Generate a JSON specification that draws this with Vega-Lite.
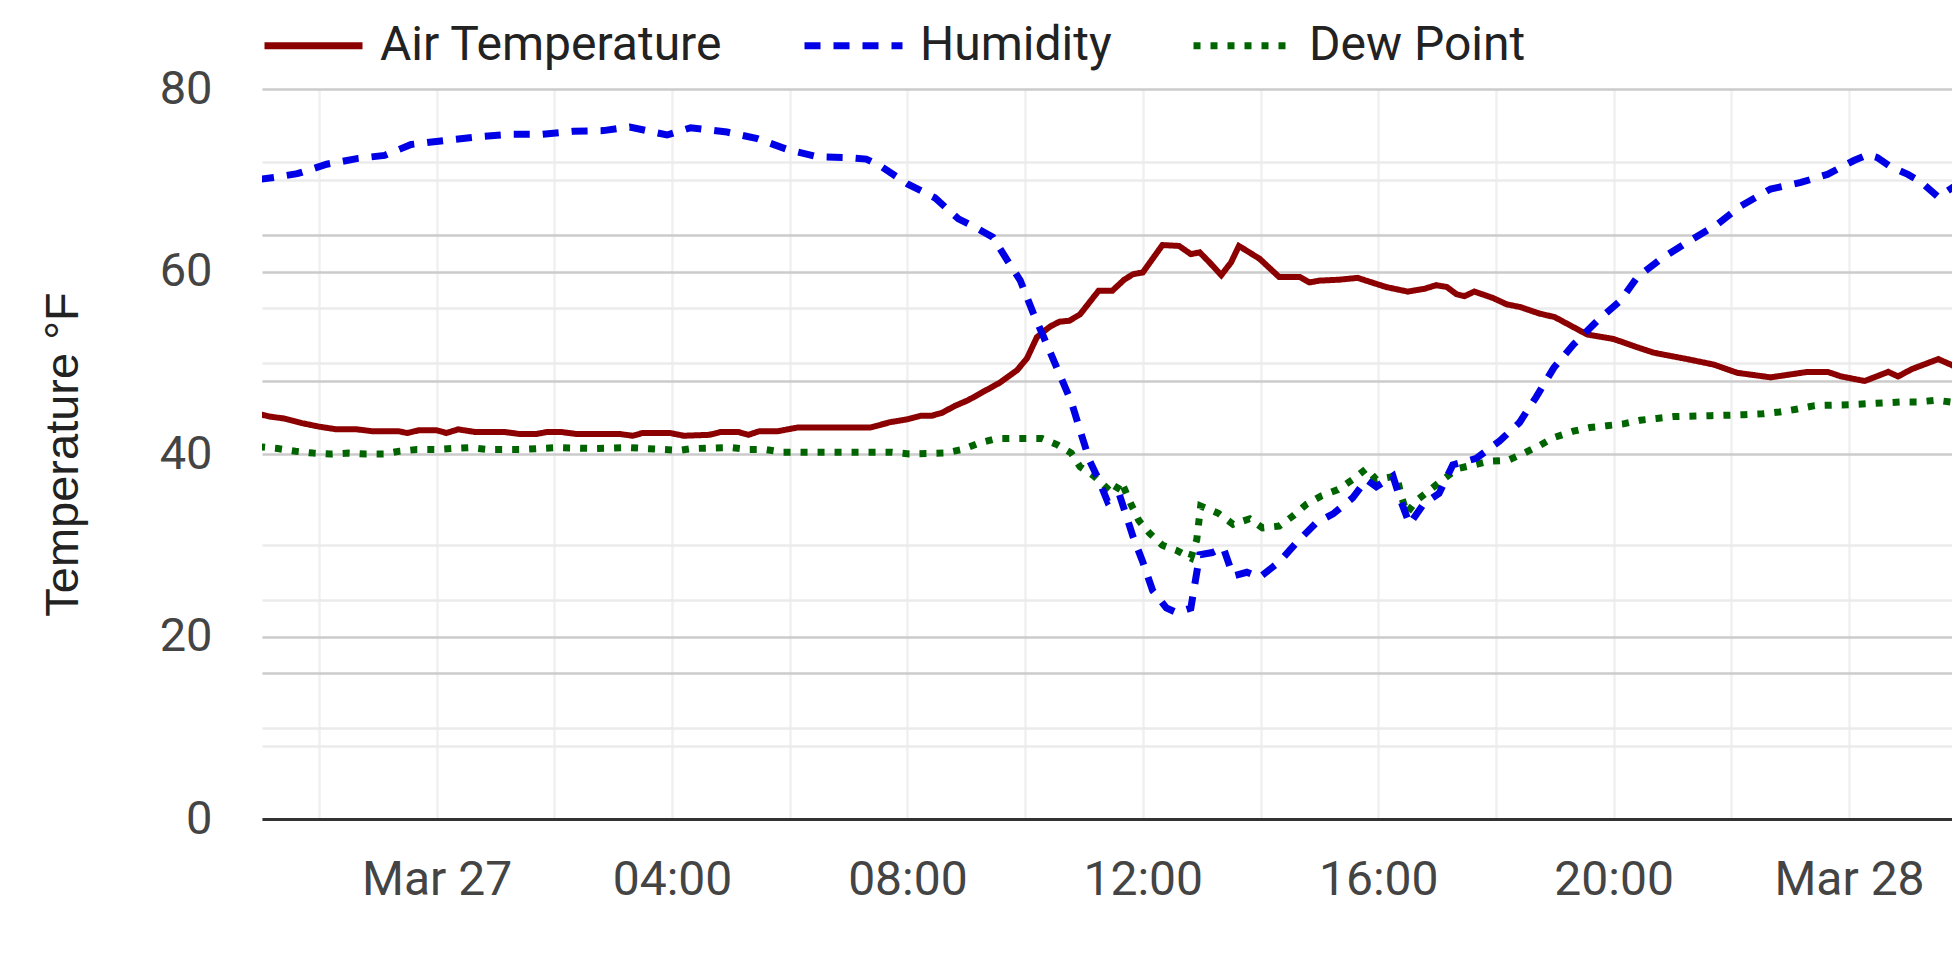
{
  "$schema": "https://vega.github.io/schema/vega-lite/v6.json",
  "width": 1690,
  "height": 730,
  "autosize": "none",
  "padding": {"left": 262, "top": 89, "right": 0, "bottom": 140},
  "background": "white",
  "data": {
    "values": [
      {"time": "2024-03-26T20:58", "series": "Air Temperature", "value": 44.4},
      {"time": "2024-03-26T21:10", "series": "Air Temperature", "value": 44.1},
      {"time": "2024-03-26T21:24", "series": "Air Temperature", "value": 43.9},
      {"time": "2024-03-26T21:42", "series": "Air Temperature", "value": 43.4},
      {"time": "2024-03-26T22:00", "series": "Air Temperature", "value": 43.0},
      {"time": "2024-03-26T22:18", "series": "Air Temperature", "value": 42.7},
      {"time": "2024-03-26T22:39", "series": "Air Temperature", "value": 42.7},
      {"time": "2024-03-26T22:54", "series": "Air Temperature", "value": 42.5},
      {"time": "2024-03-26T23:21", "series": "Air Temperature", "value": 42.5},
      {"time": "2024-03-26T23:30", "series": "Air Temperature", "value": 42.3},
      {"time": "2024-03-26T23:42", "series": "Air Temperature", "value": 42.6},
      {"time": "2024-03-27T00:00", "series": "Air Temperature", "value": 42.6},
      {"time": "2024-03-27T00:10", "series": "Air Temperature", "value": 42.3},
      {"time": "2024-03-27T00:22", "series": "Air Temperature", "value": 42.7},
      {"time": "2024-03-27T00:40", "series": "Air Temperature", "value": 42.4},
      {"time": "2024-03-27T01:10", "series": "Air Temperature", "value": 42.4},
      {"time": "2024-03-27T01:24", "series": "Air Temperature", "value": 42.2},
      {"time": "2024-03-27T01:42", "series": "Air Temperature", "value": 42.2},
      {"time": "2024-03-27T01:52", "series": "Air Temperature", "value": 42.4},
      {"time": "2024-03-27T02:08", "series": "Air Temperature", "value": 42.4},
      {"time": "2024-03-27T02:22", "series": "Air Temperature", "value": 42.2},
      {"time": "2024-03-27T03:06", "series": "Air Temperature", "value": 42.2},
      {"time": "2024-03-27T03:20", "series": "Air Temperature", "value": 42.0},
      {"time": "2024-03-27T03:30", "series": "Air Temperature", "value": 42.3},
      {"time": "2024-03-27T03:58", "series": "Air Temperature", "value": 42.3},
      {"time": "2024-03-27T04:12", "series": "Air Temperature", "value": 42.0},
      {"time": "2024-03-27T04:38", "series": "Air Temperature", "value": 42.1},
      {"time": "2024-03-27T04:49", "series": "Air Temperature", "value": 42.4},
      {"time": "2024-03-27T05:08", "series": "Air Temperature", "value": 42.4},
      {"time": "2024-03-27T05:18", "series": "Air Temperature", "value": 42.1},
      {"time": "2024-03-27T05:29", "series": "Air Temperature", "value": 42.5},
      {"time": "2024-03-27T05:48", "series": "Air Temperature", "value": 42.5},
      {"time": "2024-03-27T06:08", "series": "Air Temperature", "value": 42.9},
      {"time": "2024-03-27T07:22", "series": "Air Temperature", "value": 42.9},
      {"time": "2024-03-27T07:43", "series": "Air Temperature", "value": 43.5},
      {"time": "2024-03-27T08:00", "series": "Air Temperature", "value": 43.8},
      {"time": "2024-03-27T08:14", "series": "Air Temperature", "value": 44.2},
      {"time": "2024-03-27T08:25", "series": "Air Temperature", "value": 44.2},
      {"time": "2024-03-27T08:35", "series": "Air Temperature", "value": 44.5},
      {"time": "2024-03-27T08:49", "series": "Air Temperature", "value": 45.3},
      {"time": "2024-03-27T09:02", "series": "Air Temperature", "value": 45.9},
      {"time": "2024-03-27T09:17", "series": "Air Temperature", "value": 46.8},
      {"time": "2024-03-27T09:34", "series": "Air Temperature", "value": 47.8},
      {"time": "2024-03-27T09:52", "series": "Air Temperature", "value": 49.2},
      {"time": "2024-03-27T10:02", "series": "Air Temperature", "value": 50.5},
      {"time": "2024-03-27T10:12", "series": "Air Temperature", "value": 52.8},
      {"time": "2024-03-27T10:21", "series": "Air Temperature", "value": 53.6},
      {"time": "2024-03-27T10:26", "series": "Air Temperature", "value": 54.0},
      {"time": "2024-03-27T10:35", "series": "Air Temperature", "value": 54.5},
      {"time": "2024-03-27T10:45", "series": "Air Temperature", "value": 54.6},
      {"time": "2024-03-27T10:56", "series": "Air Temperature", "value": 55.3},
      {"time": "2024-03-27T11:15", "series": "Air Temperature", "value": 57.9},
      {"time": "2024-03-27T11:29", "series": "Air Temperature", "value": 57.9},
      {"time": "2024-03-27T11:41", "series": "Air Temperature", "value": 59.1},
      {"time": "2024-03-27T11:50", "series": "Air Temperature", "value": 59.7},
      {"time": "2024-03-27T12:00", "series": "Air Temperature", "value": 59.9},
      {"time": "2024-03-27T12:10", "series": "Air Temperature", "value": 61.4},
      {"time": "2024-03-27T12:20", "series": "Air Temperature", "value": 62.9},
      {"time": "2024-03-27T12:37", "series": "Air Temperature", "value": 62.8},
      {"time": "2024-03-27T12:49", "series": "Air Temperature", "value": 61.9},
      {"time": "2024-03-27T12:58", "series": "Air Temperature", "value": 62.1},
      {"time": "2024-03-27T13:08", "series": "Air Temperature", "value": 61.0},
      {"time": "2024-03-27T13:20", "series": "Air Temperature", "value": 59.6},
      {"time": "2024-03-27T13:30", "series": "Air Temperature", "value": 61.0},
      {"time": "2024-03-27T13:38", "series": "Air Temperature", "value": 62.8},
      {"time": "2024-03-27T13:59", "series": "Air Temperature", "value": 61.4},
      {"time": "2024-03-27T14:19", "series": "Air Temperature", "value": 59.4},
      {"time": "2024-03-27T14:40", "series": "Air Temperature", "value": 59.4},
      {"time": "2024-03-27T14:50", "series": "Air Temperature", "value": 58.8},
      {"time": "2024-03-27T15:00", "series": "Air Temperature", "value": 59.0},
      {"time": "2024-03-27T15:20", "series": "Air Temperature", "value": 59.1},
      {"time": "2024-03-27T15:39", "series": "Air Temperature", "value": 59.3},
      {"time": "2024-03-27T16:08", "series": "Air Temperature", "value": 58.3},
      {"time": "2024-03-27T16:30", "series": "Air Temperature", "value": 57.8},
      {"time": "2024-03-27T16:47", "series": "Air Temperature", "value": 58.1},
      {"time": "2024-03-27T16:59", "series": "Air Temperature", "value": 58.5},
      {"time": "2024-03-27T17:10", "series": "Air Temperature", "value": 58.3},
      {"time": "2024-03-27T17:20", "series": "Air Temperature", "value": 57.5},
      {"time": "2024-03-27T17:28", "series": "Air Temperature", "value": 57.3},
      {"time": "2024-03-27T17:38", "series": "Air Temperature", "value": 57.8},
      {"time": "2024-03-27T17:57", "series": "Air Temperature", "value": 57.1},
      {"time": "2024-03-27T18:11", "series": "Air Temperature", "value": 56.4},
      {"time": "2024-03-27T18:25", "series": "Air Temperature", "value": 56.1},
      {"time": "2024-03-27T18:44", "series": "Air Temperature", "value": 55.4},
      {"time": "2024-03-27T19:00", "series": "Air Temperature", "value": 55.0},
      {"time": "2024-03-27T19:33", "series": "Air Temperature", "value": 53.1},
      {"time": "2024-03-27T20:00", "series": "Air Temperature", "value": 52.6},
      {"time": "2024-03-27T20:24", "series": "Air Temperature", "value": 51.7},
      {"time": "2024-03-27T20:41", "series": "Air Temperature", "value": 51.1},
      {"time": "2024-03-27T21:15", "series": "Air Temperature", "value": 50.4},
      {"time": "2024-03-27T21:42", "series": "Air Temperature", "value": 49.8},
      {"time": "2024-03-27T22:06", "series": "Air Temperature", "value": 48.9},
      {"time": "2024-03-27T22:40", "series": "Air Temperature", "value": 48.4},
      {"time": "2024-03-27T23:18", "series": "Air Temperature", "value": 49.0},
      {"time": "2024-03-27T23:38", "series": "Air Temperature", "value": 49.0},
      {"time": "2024-03-27T23:52", "series": "Air Temperature", "value": 48.5},
      {"time": "2024-03-28T00:16", "series": "Air Temperature", "value": 48.0},
      {"time": "2024-03-28T00:40", "series": "Air Temperature", "value": 49.0},
      {"time": "2024-03-28T00:50", "series": "Air Temperature", "value": 48.5},
      {"time": "2024-03-28T01:04", "series": "Air Temperature", "value": 49.3},
      {"time": "2024-03-28T01:31", "series": "Air Temperature", "value": 50.4},
      {"time": "2024-03-28T01:50", "series": "Air Temperature", "value": 49.5},
      {"time": "2024-03-26T20:58", "series": "Dew Point", "value": 40.8},
      {"time": "2024-03-26T21:18", "series": "Dew Point", "value": 40.6},
      {"time": "2024-03-26T21:36", "series": "Dew Point", "value": 40.3},
      {"time": "2024-03-26T21:54", "series": "Dew Point", "value": 40.1},
      {"time": "2024-03-26T22:12", "series": "Dew Point", "value": 40.0},
      {"time": "2024-03-26T22:30", "series": "Dew Point", "value": 40.1},
      {"time": "2024-03-26T22:48", "series": "Dew Point", "value": 40.0},
      {"time": "2024-03-26T23:06", "series": "Dew Point", "value": 40.0},
      {"time": "2024-03-26T23:22", "series": "Dew Point", "value": 40.3},
      {"time": "2024-03-26T23:40", "series": "Dew Point", "value": 40.5},
      {"time": "2024-03-27T00:00", "series": "Dew Point", "value": 40.5},
      {"time": "2024-03-27T00:16", "series": "Dew Point", "value": 40.6},
      {"time": "2024-03-27T00:34", "series": "Dew Point", "value": 40.7},
      {"time": "2024-03-27T00:52", "series": "Dew Point", "value": 40.5},
      {"time": "2024-03-27T01:28", "series": "Dew Point", "value": 40.5},
      {"time": "2024-03-27T01:44", "series": "Dew Point", "value": 40.6},
      {"time": "2024-03-27T02:04", "series": "Dew Point", "value": 40.7},
      {"time": "2024-03-27T02:40", "series": "Dew Point", "value": 40.6},
      {"time": "2024-03-27T03:16", "series": "Dew Point", "value": 40.7},
      {"time": "2024-03-27T03:50", "series": "Dew Point", "value": 40.5},
      {"time": "2024-03-27T04:08", "series": "Dew Point", "value": 40.4},
      {"time": "2024-03-27T04:21", "series": "Dew Point", "value": 40.6},
      {"time": "2024-03-27T05:00", "series": "Dew Point", "value": 40.7},
      {"time": "2024-03-27T05:17", "series": "Dew Point", "value": 40.5},
      {"time": "2024-03-27T05:35", "series": "Dew Point", "value": 40.5},
      {"time": "2024-03-27T05:53", "series": "Dew Point", "value": 40.2},
      {"time": "2024-03-27T07:43", "series": "Dew Point", "value": 40.2},
      {"time": "2024-03-27T08:02", "series": "Dew Point", "value": 40.0},
      {"time": "2024-03-27T08:38", "series": "Dew Point", "value": 40.1},
      {"time": "2024-03-27T08:56", "series": "Dew Point", "value": 40.5},
      {"time": "2024-03-27T09:13", "series": "Dew Point", "value": 41.2},
      {"time": "2024-03-27T09:31", "series": "Dew Point", "value": 41.7},
      {"time": "2024-03-27T10:17", "series": "Dew Point", "value": 41.7},
      {"time": "2024-03-27T10:33", "series": "Dew Point", "value": 41.0},
      {"time": "2024-03-27T10:47", "series": "Dew Point", "value": 40.1},
      {"time": "2024-03-27T10:56", "series": "Dew Point", "value": 38.6},
      {"time": "2024-03-27T11:10", "series": "Dew Point", "value": 37.6},
      {"time": "2024-03-27T11:21", "series": "Dew Point", "value": 36.5},
      {"time": "2024-03-27T11:30", "series": "Dew Point", "value": 35.6},
      {"time": "2024-03-27T11:38", "series": "Dew Point", "value": 37.0},
      {"time": "2024-03-27T11:48", "series": "Dew Point", "value": 34.5},
      {"time": "2024-03-27T11:56", "series": "Dew Point", "value": 32.7},
      {"time": "2024-03-27T12:07", "series": "Dew Point", "value": 31.3},
      {"time": "2024-03-27T12:20", "series": "Dew Point", "value": 30.0},
      {"time": "2024-03-27T12:35", "series": "Dew Point", "value": 29.4},
      {"time": "2024-03-27T12:49", "series": "Dew Point", "value": 28.6},
      {"time": "2024-03-27T12:55", "series": "Dew Point", "value": 30.6},
      {"time": "2024-03-27T12:59", "series": "Dew Point", "value": 34.3},
      {"time": "2024-03-27T13:17", "series": "Dew Point", "value": 33.5},
      {"time": "2024-03-27T13:32", "series": "Dew Point", "value": 32.3},
      {"time": "2024-03-27T13:49", "series": "Dew Point", "value": 32.9},
      {"time": "2024-03-27T14:02", "series": "Dew Point", "value": 31.9},
      {"time": "2024-03-27T14:19", "series": "Dew Point", "value": 32.1},
      {"time": "2024-03-27T14:33", "series": "Dew Point", "value": 33.2},
      {"time": "2024-03-27T14:47", "series": "Dew Point", "value": 34.5},
      {"time": "2024-03-27T15:02", "series": "Dew Point", "value": 35.4},
      {"time": "2024-03-27T15:19", "series": "Dew Point", "value": 36.1},
      {"time": "2024-03-27T15:34", "series": "Dew Point", "value": 37.2},
      {"time": "2024-03-27T15:48", "series": "Dew Point", "value": 38.4},
      {"time": "2024-03-27T15:58", "series": "Dew Point", "value": 37.2},
      {"time": "2024-03-27T16:19", "series": "Dew Point", "value": 37.6},
      {"time": "2024-03-27T16:23", "series": "Dew Point", "value": 35.6},
      {"time": "2024-03-27T16:29", "series": "Dew Point", "value": 33.5},
      {"time": "2024-03-27T16:39", "series": "Dew Point", "value": 34.9},
      {"time": "2024-03-27T16:52", "series": "Dew Point", "value": 36.0},
      {"time": "2024-03-27T17:06", "series": "Dew Point", "value": 37.2},
      {"time": "2024-03-27T17:21", "series": "Dew Point", "value": 38.4},
      {"time": "2024-03-27T17:37", "series": "Dew Point", "value": 38.8},
      {"time": "2024-03-27T17:53", "series": "Dew Point", "value": 39.2},
      {"time": "2024-03-27T18:12", "series": "Dew Point", "value": 39.3},
      {"time": "2024-03-27T18:29", "series": "Dew Point", "value": 40.1},
      {"time": "2024-03-27T18:44", "series": "Dew Point", "value": 40.9},
      {"time": "2024-03-27T18:59", "series": "Dew Point", "value": 41.8},
      {"time": "2024-03-27T19:19", "series": "Dew Point", "value": 42.5},
      {"time": "2024-03-27T19:36", "series": "Dew Point", "value": 42.9},
      {"time": "2024-03-27T19:53", "series": "Dew Point", "value": 43.1},
      {"time": "2024-03-27T20:10", "series": "Dew Point", "value": 43.3},
      {"time": "2024-03-27T20:27", "series": "Dew Point", "value": 43.7},
      {"time": "2024-03-27T20:44", "series": "Dew Point", "value": 43.9},
      {"time": "2024-03-27T21:01", "series": "Dew Point", "value": 44.1},
      {"time": "2024-03-27T21:39", "series": "Dew Point", "value": 44.2},
      {"time": "2024-03-27T22:13", "series": "Dew Point", "value": 44.3},
      {"time": "2024-03-27T22:32", "series": "Dew Point", "value": 44.4},
      {"time": "2024-03-27T22:49", "series": "Dew Point", "value": 44.6},
      {"time": "2024-03-27T23:06", "series": "Dew Point", "value": 44.9},
      {"time": "2024-03-27T23:25", "series": "Dew Point", "value": 45.3},
      {"time": "2024-03-28T00:00", "series": "Dew Point", "value": 45.4},
      {"time": "2024-03-28T00:17", "series": "Dew Point", "value": 45.5},
      {"time": "2024-03-28T00:34", "series": "Dew Point", "value": 45.6},
      {"time": "2024-03-28T00:53", "series": "Dew Point", "value": 45.7},
      {"time": "2024-03-28T01:10", "series": "Dew Point", "value": 45.7},
      {"time": "2024-03-28T01:29", "series": "Dew Point", "value": 45.9},
      {"time": "2024-03-28T01:50", "series": "Dew Point", "value": 45.6},
      {"time": "2024-03-26T20:58", "series": "Humidity", "value": 87.6},
      {"time": "2024-03-26T21:15", "series": "Humidity", "value": 87.9},
      {"time": "2024-03-26T21:38", "series": "Humidity", "value": 88.4},
      {"time": "2024-03-26T22:08", "series": "Humidity", "value": 89.7},
      {"time": "2024-03-26T22:40", "series": "Humidity", "value": 90.5},
      {"time": "2024-03-26T23:07", "series": "Humidity", "value": 90.9},
      {"time": "2024-03-26T23:34", "series": "Humidity", "value": 92.4},
      {"time": "2024-03-27T00:12", "series": "Humidity", "value": 93.0},
      {"time": "2024-03-27T00:46", "series": "Humidity", "value": 93.5},
      {"time": "2024-03-27T01:17", "series": "Humidity", "value": 93.8},
      {"time": "2024-03-27T01:48", "series": "Humidity", "value": 93.8},
      {"time": "2024-03-27T02:19", "series": "Humidity", "value": 94.2},
      {"time": "2024-03-27T02:50", "series": "Humidity", "value": 94.3},
      {"time": "2024-03-27T03:17", "series": "Humidity", "value": 94.8},
      {"time": "2024-03-27T03:34", "series": "Humidity", "value": 94.3},
      {"time": "2024-03-27T03:55", "series": "Humidity", "value": 93.7},
      {"time": "2024-03-27T04:19", "series": "Humidity", "value": 94.7},
      {"time": "2024-03-27T04:56", "series": "Humidity", "value": 94.1},
      {"time": "2024-03-27T05:27", "series": "Humidity", "value": 93.2},
      {"time": "2024-03-27T05:58", "series": "Humidity", "value": 91.7},
      {"time": "2024-03-27T06:29", "series": "Humidity", "value": 90.7},
      {"time": "2024-03-27T07:01", "series": "Humidity", "value": 90.6},
      {"time": "2024-03-27T07:18", "series": "Humidity", "value": 90.4},
      {"time": "2024-03-27T07:32", "series": "Humidity", "value": 89.5},
      {"time": "2024-03-27T08:00", "series": "Humidity", "value": 87.0},
      {"time": "2024-03-27T08:28", "series": "Humidity", "value": 85.1},
      {"time": "2024-03-27T08:52", "series": "Humidity", "value": 82.2},
      {"time": "2024-03-27T09:10", "series": "Humidity", "value": 81.0},
      {"time": "2024-03-27T09:27", "series": "Humidity", "value": 79.7},
      {"time": "2024-03-27T09:43", "series": "Humidity", "value": 76.3},
      {"time": "2024-03-27T09:55", "series": "Humidity", "value": 73.8},
      {"time": "2024-03-27T10:08", "series": "Humidity", "value": 69.4},
      {"time": "2024-03-27T10:19", "series": "Humidity", "value": 66.0},
      {"time": "2024-03-27T10:33", "series": "Humidity", "value": 61.6},
      {"time": "2024-03-27T10:47", "series": "Humidity", "value": 57.2},
      {"time": "2024-03-27T10:58", "series": "Humidity", "value": 52.4},
      {"time": "2024-03-27T11:06", "series": "Humidity", "value": 49.0},
      {"time": "2024-03-27T11:15", "series": "Humidity", "value": 46.5},
      {"time": "2024-03-27T11:24", "series": "Humidity", "value": 43.5},
      {"time": "2024-03-27T11:36", "series": "Humidity", "value": 44.5},
      {"time": "2024-03-27T11:50", "series": "Humidity", "value": 38.7},
      {"time": "2024-03-27T12:00", "series": "Humidity", "value": 35.2},
      {"time": "2024-03-27T12:10", "series": "Humidity", "value": 31.3},
      {"time": "2024-03-27T12:24", "series": "Humidity", "value": 28.9},
      {"time": "2024-03-27T12:34", "series": "Humidity", "value": 28.3},
      {"time": "2024-03-27T12:49", "series": "Humidity", "value": 28.9},
      {"time": "2024-03-27T12:58", "series": "Humidity", "value": 36.2},
      {"time": "2024-03-27T13:11", "series": "Humidity", "value": 36.5},
      {"time": "2024-03-27T13:22", "series": "Humidity", "value": 37.2},
      {"time": "2024-03-27T13:32", "series": "Humidity", "value": 33.3},
      {"time": "2024-03-27T13:46", "series": "Humidity", "value": 33.8},
      {"time": "2024-03-27T13:59", "series": "Humidity", "value": 33.1},
      {"time": "2024-03-27T14:19", "series": "Humidity", "value": 35.2},
      {"time": "2024-03-27T14:37", "series": "Humidity", "value": 37.9},
      {"time": "2024-03-27T14:57", "series": "Humidity", "value": 40.6},
      {"time": "2024-03-27T15:14", "series": "Humidity", "value": 41.8},
      {"time": "2024-03-27T15:34", "series": "Humidity", "value": 44.0},
      {"time": "2024-03-27T15:48", "series": "Humidity", "value": 46.5},
      {"time": "2024-03-27T15:58", "series": "Humidity", "value": 45.5},
      {"time": "2024-03-27T16:15", "series": "Humidity", "value": 47.0},
      {"time": "2024-03-27T16:23", "series": "Humidity", "value": 43.6},
      {"time": "2024-03-27T16:32", "series": "Humidity", "value": 40.4},
      {"time": "2024-03-27T16:46", "series": "Humidity", "value": 43.1},
      {"time": "2024-03-27T17:02", "series": "Humidity", "value": 44.6},
      {"time": "2024-03-27T17:16", "series": "Humidity", "value": 48.5},
      {"time": "2024-03-27T17:40", "series": "Humidity", "value": 49.4},
      {"time": "2024-03-27T18:04", "series": "Humidity", "value": 51.8},
      {"time": "2024-03-27T18:24", "series": "Humidity", "value": 54.3},
      {"time": "2024-03-27T18:41", "series": "Humidity", "value": 57.8},
      {"time": "2024-03-27T18:59", "series": "Humidity", "value": 61.8},
      {"time": "2024-03-27T19:19", "series": "Humidity", "value": 65.0},
      {"time": "2024-03-27T19:43", "series": "Humidity", "value": 68.2},
      {"time": "2024-03-27T20:07", "series": "Humidity", "value": 71.0},
      {"time": "2024-03-27T20:24", "series": "Humidity", "value": 74.2},
      {"time": "2024-03-27T20:48", "series": "Humidity", "value": 76.7},
      {"time": "2024-03-27T21:15", "series": "Humidity", "value": 79.0},
      {"time": "2024-03-27T21:46", "series": "Humidity", "value": 81.5},
      {"time": "2024-03-27T22:10", "series": "Humidity", "value": 84.0},
      {"time": "2024-03-27T22:40", "series": "Humidity", "value": 86.3},
      {"time": "2024-03-27T23:11", "series": "Humidity", "value": 87.2},
      {"time": "2024-03-27T23:38", "series": "Humidity", "value": 88.3},
      {"time": "2024-03-28T00:05", "series": "Humidity", "value": 90.2},
      {"time": "2024-03-28T00:19", "series": "Humidity", "value": 91.0},
      {"time": "2024-03-28T00:29", "series": "Humidity", "value": 90.6},
      {"time": "2024-03-28T00:43", "series": "Humidity", "value": 89.3},
      {"time": "2024-03-28T01:00", "series": "Humidity", "value": 88.3},
      {"time": "2024-03-28T01:14", "series": "Humidity", "value": 87.2},
      {"time": "2024-03-28T01:31", "series": "Humidity", "value": 85.2},
      {"time": "2024-03-28T01:50", "series": "Humidity", "value": 86.9}
    ]
  },
  "encoding": {
    "x": {
      "field": "time",
      "type": "temporal",
      "scale": {
        "domain": [
          {"year": 2024, "month": 3, "date": 26, "hours": 21, "minutes": 2},
          {"year": 2024, "month": 3, "date": 28, "hours": 1, "minutes": 45}
        ]
      },
      "axis": {
        "title": null,
        "values": [
          {"year": 2024, "month": 3, "date": 26, "hours": 22},
          {"year": 2024, "month": 3, "date": 27, "hours": 0},
          {"year": 2024, "month": 3, "date": 27, "hours": 2},
          {"year": 2024, "month": 3, "date": 27, "hours": 4},
          {"year": 2024, "month": 3, "date": 27, "hours": 6},
          {"year": 2024, "month": 3, "date": 27, "hours": 8},
          {"year": 2024, "month": 3, "date": 27, "hours": 10},
          {"year": 2024, "month": 3, "date": 27, "hours": 12},
          {"year": 2024, "month": 3, "date": 27, "hours": 14},
          {"year": 2024, "month": 3, "date": 27, "hours": 16},
          {"year": 2024, "month": 3, "date": 27, "hours": 18},
          {"year": 2024, "month": 3, "date": 27, "hours": 20},
          {"year": 2024, "month": 3, "date": 27, "hours": 22},
          {"year": 2024, "month": 3, "date": 28, "hours": 0}
        ],
        "labelExpr": "hours(datum.value) % 4 != 0 ? '' : (hours(datum.value) == 0 ? timeFormat(datum.value, '%b %d') : timeFormat(datum.value, '%H:%M'))",
        "labelOverlap": false,
        "labelFlush": false,
        "labelFont": "Roboto",
        "labelFontSize": 48,
        "labelColor": "#444444",
        "labelPadding": 37,
        "ticks": false,
        "domainColor": "#333333",
        "domainWidth": 3,
        "gridColor": "#f0f0f0",
        "gridWidth": 2.5
      }
    },
    "color": {
      "field": "series",
      "type": "nominal",
      "scale": {
        "domain": ["Air Temperature", "Humidity", "Dew Point"],
        "range": ["#8b0000", "#0000e6", "#006400"]
      },
      "legend": {
        "title": null,
        "orient": "none",
        "legendX": -1,
        "legendY": -96,
        "direction": "horizontal",
        "padding": 0,
        "symbolType": "stroke",
        "symbolSize": 9604,
        "symbolStrokeWidth": 7,
        "labelFont": "Roboto",
        "labelFontSize": 48,
        "labelLimit": 0,
        "labelColor": "#222222",
        "labelOffset": 14,
        "columnPadding": 67
      }
    },
    "strokeDash": {
      "field": "series",
      "type": "nominal",
      "scale": {
        "domain": ["Air Temperature", "Humidity", "Dew Point"],
        "range": [[1, 0], [16, 13], [7, 10]]
      },
      "legend": null
    }
  },
  "layer": [
    {
      "transform": [{"filter": "datum.series == 'Air Temperature'"}],
      "mark": {"type": "line", "strokeWidth": 6, "clip": true},
      "encoding": {
        "y": {
          "field": "value",
          "type": "quantitative",
          "scale": {"domain": [0, 80], "nice": false, "zero": false},
          "axis": {
            "title": "Temperature °F",
            "titleFont": "Liberation Sans",
            "titleFontSize": 47,
            "titleFontWeight": "normal",
            "titleColor": "#222222",
            "titleX": -175,
            "titleY": 365,
            "values": [0, 10, 20, 30, 40, 50, 60, 70, 80],
            "labelExpr": "datum.value % 20 == 0 ? datum.label : ''",
            "labelFont": "Roboto",
            "labelFontSize": 47,
            "labelColor": "#444444",
            "labelPadding": 50,
            "ticks": false,
            "domain": false,
            "gridWidth": 2.5,
            "gridColor": {"condition": {"test": "datum.value % 20 == 0", "value": "#cbcbcb"}, "value": "#ebebeb"}
          }
        }
      }
    },
    {
      "transform": [{"filter": "datum.series == 'Dew Point'"}],
      "mark": {"type": "line", "strokeWidth": 7, "clip": true},
      "encoding": {
        "y": {
          "field": "value",
          "type": "quantitative",
          "scale": {"domain": [0, 80], "nice": false, "zero": false},
          "axis": null
        }
      }
    },
    {
      "transform": [{"filter": "datum.series == 'Humidity'"}],
      "mark": {"type": "line", "strokeWidth": 7, "clip": true},
      "encoding": {
        "y": {
          "field": "value",
          "type": "quantitative",
          "scale": {"domain": [0, 100], "nice": false, "zero": false},
          "axis": {
            "orient": "right",
            "title": null,
            "labels": false,
            "ticks": false,
            "domain": false,
            "grid": true,
            "values": [10, 20, 30, 60, 70, 80, 90],
            "gridWidth": 2.5,
            "gridColor": {"condition": {"test": "datum.value % 20 == 0", "value": "#cbcbcb"}, "value": "#ebebeb"}
          }
        }
      }
    }
  ],
  "resolve": {"scale": {"y": "independent"}},
  "config": {
    "view": {"stroke": null}
  }
}
